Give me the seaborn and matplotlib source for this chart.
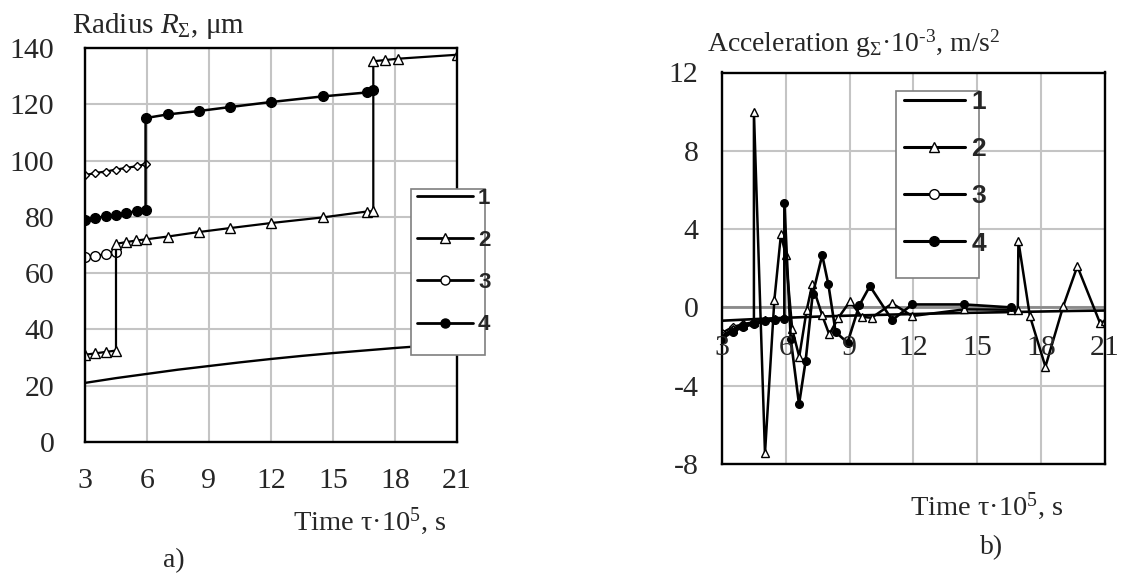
import matplotlib
matplotlib.use("Agg")
import matplotlib.pyplot as plt
from matplotlib.lines import Line2D
from matplotlib.patches import Rectangle
import seaborn as sns

# a) radius R_sum vs time (tau * 1e5, s)
t_r1 = [3, 4.5, 6, 7.5, 9, 10.5, 12, 13.5, 15, 16.5, 18, 19.5, 21]
r_1 = [21, 22.7, 24.2, 25.7, 27, 28.3, 29.5, 30.6, 31.6, 32.5, 33.4, 34.2, 35]

t_r2 = [3, 3.5, 4, 4.5, 4.5, 4.96, 5.49, 5.93, 7, 8.5, 10, 12, 14.5, 16.64, 16.95, 16.95, 17.5, 18.15, 21]
r_2 = [31, 31.5, 32, 32.5, 70.4, 71, 71.6, 72, 73, 74.6, 76, 77.8, 79.8, 81.9, 82, 135.3, 135.7, 136.2, 137.6]

t_r3 = [3, 3.5, 4, 4.5]
r_3 = [65.6, 66.2, 66.7, 67.4]

t_r4 = [3, 3.5, 4, 4.5, 5, 5.5, 5.93, 5.93, 7, 8.5, 10, 12, 14.5, 16.64, 16.95]
r_4 = [78.8, 79.5, 80.2, 80.7, 81.3, 82.1, 82.4, 115.1, 116.4, 117.6, 119, 120.8, 122.8, 124.2, 124.9]

# unlabeled diamond series
t_r5 = [3, 3.5, 4, 4.5, 5, 5.5, 5.93]
r_5 = [94.8, 95.6, 96.1, 96.8, 97.4, 98, 98.7]

# b) acceleration g_sum * 1e-3 vs time
t_g1 = [3, 4.5, 6, 7.5, 9, 10.5, 12, 13.5, 15, 16.5, 18, 19.5, 21]
g_1 = [-0.68, -0.6, -0.53, -0.47, -0.42, -0.38, -0.34, -0.3, -0.27, -0.24, -0.21, -0.18, -0.16]

t_g2 = [3, 3.5, 4, 4.5, 4.5, 5.02, 5.46, 5.77, 5.99, 6.3, 6.63, 6.98, 7.24, 7.71, 8.04, 8.47,
        9.02, 9.56, 10.03, 11.0, 11.94, 14.39, 16.58, 16.9, 16.93, 17.47, 18.2, 19.04, 19.7, 20.76, 21]
g_2 = [-1.5, -1.1, -0.9, -0.75, 10.0, -7.46, 0.37, 3.73, 2.7, -1.12, -2.52, -0.14, 1.17, -0.41, -1.38, -0.53,
       0.32, -0.48, -0.53, 0.2, -0.44, -0.1, -0.12, -0.14, 3.39, -0.44, -3.03, 0.07, 2.1, -0.78, -0.7]

t_g3 = [3, 3.5, 4, 4.5]
g_3 = [-1.45, -1.15, -0.95, -0.8]

t_g4 = [3, 3.5, 4, 4.5, 5, 5.5, 5.93, 5.93, 6.23, 6.62, 6.93, 7.26, 7.71, 8.0, 8.34, 8.9,
        9.45, 9.95, 11.0, 11.94, 14.39, 16.58]
g_4 = [-1.6, -1.25, -1.0, -0.85, -0.72, -0.65, -0.6, 5.35, -1.6, -4.95, -2.74, 0.66, 2.67, 1.17, -1.26, -1.8,
       0.1, 1.09, -0.65, 0.15, 0.15, 0.0]

t_g5 = [3, 3.5, 4, 4.5, 5, 5.5, 5.93]
g_5 = [-1.3, -1.0, -0.85, -0.75, -0.65, -0.58, -0.55]

x_ticks = [3, 6, 9, 12, 15, 18, 21]
r_ticks = [0, 20, 40, 60, 80, 100, 120, 140]
g_ticks = [-8, -4, 0, 4, 8, 12]
legend_labels = ["1", "2", "3", "4"]

sns.set_style("white")
plt.rcParams["font.family"] = ["Liberation Serif", "DejaVu Serif"]
plt.rcParams["mathtext.fontset"] = "custom"
plt.rcParams["mathtext.rm"] = "Liberation Serif"
plt.rcParams["mathtext.it"] = "Liberation Serif:italic"
plt.rcParams["axes.unicode_minus"] = False

W, H = 1121, 576
fig = plt.figure(figsize=(W / 100, H / 100), dpi=100)


def fx(px):
    return px / W


def fy(py):
    return 1 - py / H


ax1 = fig.add_axes([fx(85), fy(442), fx(372), 394 / H])
ax2 = fig.add_axes([fx(722), fy(464), fx(383), 391.5 / H])

GRID = "#c4c4c4"

# marker styles per legend entry: (marker, face)
styles = [(None, None), ("^", "white"), ("o", "white"), ("o", "black")]


def draw(ax, x, y, marker, face, ms, lw):
    kws = dict(color="black", lw=lw)
    if marker:
        kws.update(marker=marker, markerfacecolor=face, markeredgecolor="black",
                   markeredgewidth=1.0, ms=ms)
    sns.lineplot(x=x, y=y, ax=ax, estimator=None, sort=False, **kws)


# ---- panel a ----
draw(ax1, t_r1, r_1, None, None, 0, 1.7)
draw(ax1, t_r5, r_5, "D", "white", 4.5, 1.6)
draw(ax1, t_r3, r_3, "o", "white", 7, 1.6)
draw(ax1, t_r4, r_4, "o", "black", 7, 1.8)
draw(ax1, t_r2, r_2, "^", "white", 7, 1.6)

ax1.set_xlim(3, 21)
ax1.set_ylim(0, 140)
ax1.set_xticks(x_ticks)
ax1.set_yticks(r_ticks)
ax1.tick_params(axis="both", direction="out", length=6, width=1.2, labelsize=21.5, color="black")
ax1.tick_params(axis="y", pad=16)
ax1.tick_params(axis="x", pad=13)

# ---- panel b ----
ax2.axhline(0, color="#8a8a8a", lw=2, zorder=1)
draw(ax2, t_g1, g_1, None, None, 0, 1.9)
draw(ax2, t_g5, g_5, "D", "white", 3.8, 1.7)
draw(ax2, t_g3, g_3, "o", "white", 5.5, 1.7)
draw(ax2, t_g2, g_2, "^", "white", 6, 1.8)
draw(ax2, t_g4, g_4, "o", "black", 5.5, 1.9)

ax2.set_xlim(3, 21)
ax2.set_ylim(-8, 12)
ax2.set_xticks(x_ticks)
ax2.set_yticks(g_ticks)
ax2.set_xticklabels([])
ax2.tick_params(axis="x", length=0)
ax2.tick_params(axis="y", direction="out", length=7, width=1.2, labelsize=21.5, pad=10, color="black")
for xt in x_ticks:
    ax2.text(xt, -2.05, str(xt), ha="center", va="center", fontsize=21.5, zorder=3)

for ax in (ax1, ax2):
    ax.set_xlabel("")
    ax.set_ylabel("")
    ax.grid(True, color=GRID, lw=1.5)
    ax.set_axisbelow(True)
    for sp in ax.spines.values():
        sp.set_color("black")
        sp.set_linewidth(1.7)
        sp.set_visible(True)

# ---- axis captions ----
fig.text(fx(72), fy(33), r"Radius $R_{\Sigma}$, μm", fontsize=21, va="baseline")
fig.text(fx(293), fy(530), r"Time τ·10$^{5}$, s", fontsize=20.5, va="baseline")
fig.text(fx(174), fy(561), "a)", fontsize=20, ha="center", va="center")

fig.text(fx(707), fy(52), r"Acceleration g$_{\Sigma}$·10$^{\mathrm{‐3}}$, m/s$^{2}$",
         fontsize=20, va="baseline")
fig.text(fx(910), fy(515), r"Time τ·10$^{5}$, s", fontsize=20.5, va="baseline")
fig.text(fx(992), fy(548), "b)", fontsize=20, ha="center", va="center")


# ---- legends (figure level, drawn over the plots) ----
def legend_handles(lw, ms):
    hs = []
    for marker, face in styles:
        if marker:
            hs.append(Line2D([], [], color="black", lw=lw, marker=marker, ms=ms,
                             markerfacecolor=face, markeredgecolor="black", markeredgewidth=1.0))
        else:
            hs.append(Line2D([], [], color="black", lw=lw))
    return hs


box1 = Rectangle((fx(411), fy(355)), fx(74), 166 / H, transform=fig.transFigure,
                 facecolor="white", edgecolor="#7f7f7f", lw=1.2, zorder=3)
fig.patches.append(box1)
leg1 = fig.legend(legend_handles(2.0, 6.5), legend_labels, loc="upper left",
                  bbox_to_anchor=(fx(417), fy(188)), frameon=False, borderpad=0,
                  borderaxespad=0, handlelength=2.5, handletextpad=0.25, labelspacing=0.95,
                  prop=dict(family="Liberation Sans", weight="bold", size=16))
leg1.set_zorder(4)

box2 = Rectangle((fx(896), fy(278)), fx(83), 187 / H, transform=fig.transFigure,
                 facecolor="white", edgecolor="#7f7f7f", lw=1.2, zorder=3)
fig.patches.append(box2)
leg2 = fig.legend(legend_handles(2.2, 7), legend_labels, loc="upper left",
                  bbox_to_anchor=(fx(904), fy(90)), frameon=False, borderpad=0,
                  borderaxespad=0, handlelength=2.3, handletextpad=0.25, labelspacing=0.88,
                  prop=dict(family="Liberation Sans", weight="bold", size=19))
leg2.set_zorder(4)

fig.savefig("out.png", dpi=100)
